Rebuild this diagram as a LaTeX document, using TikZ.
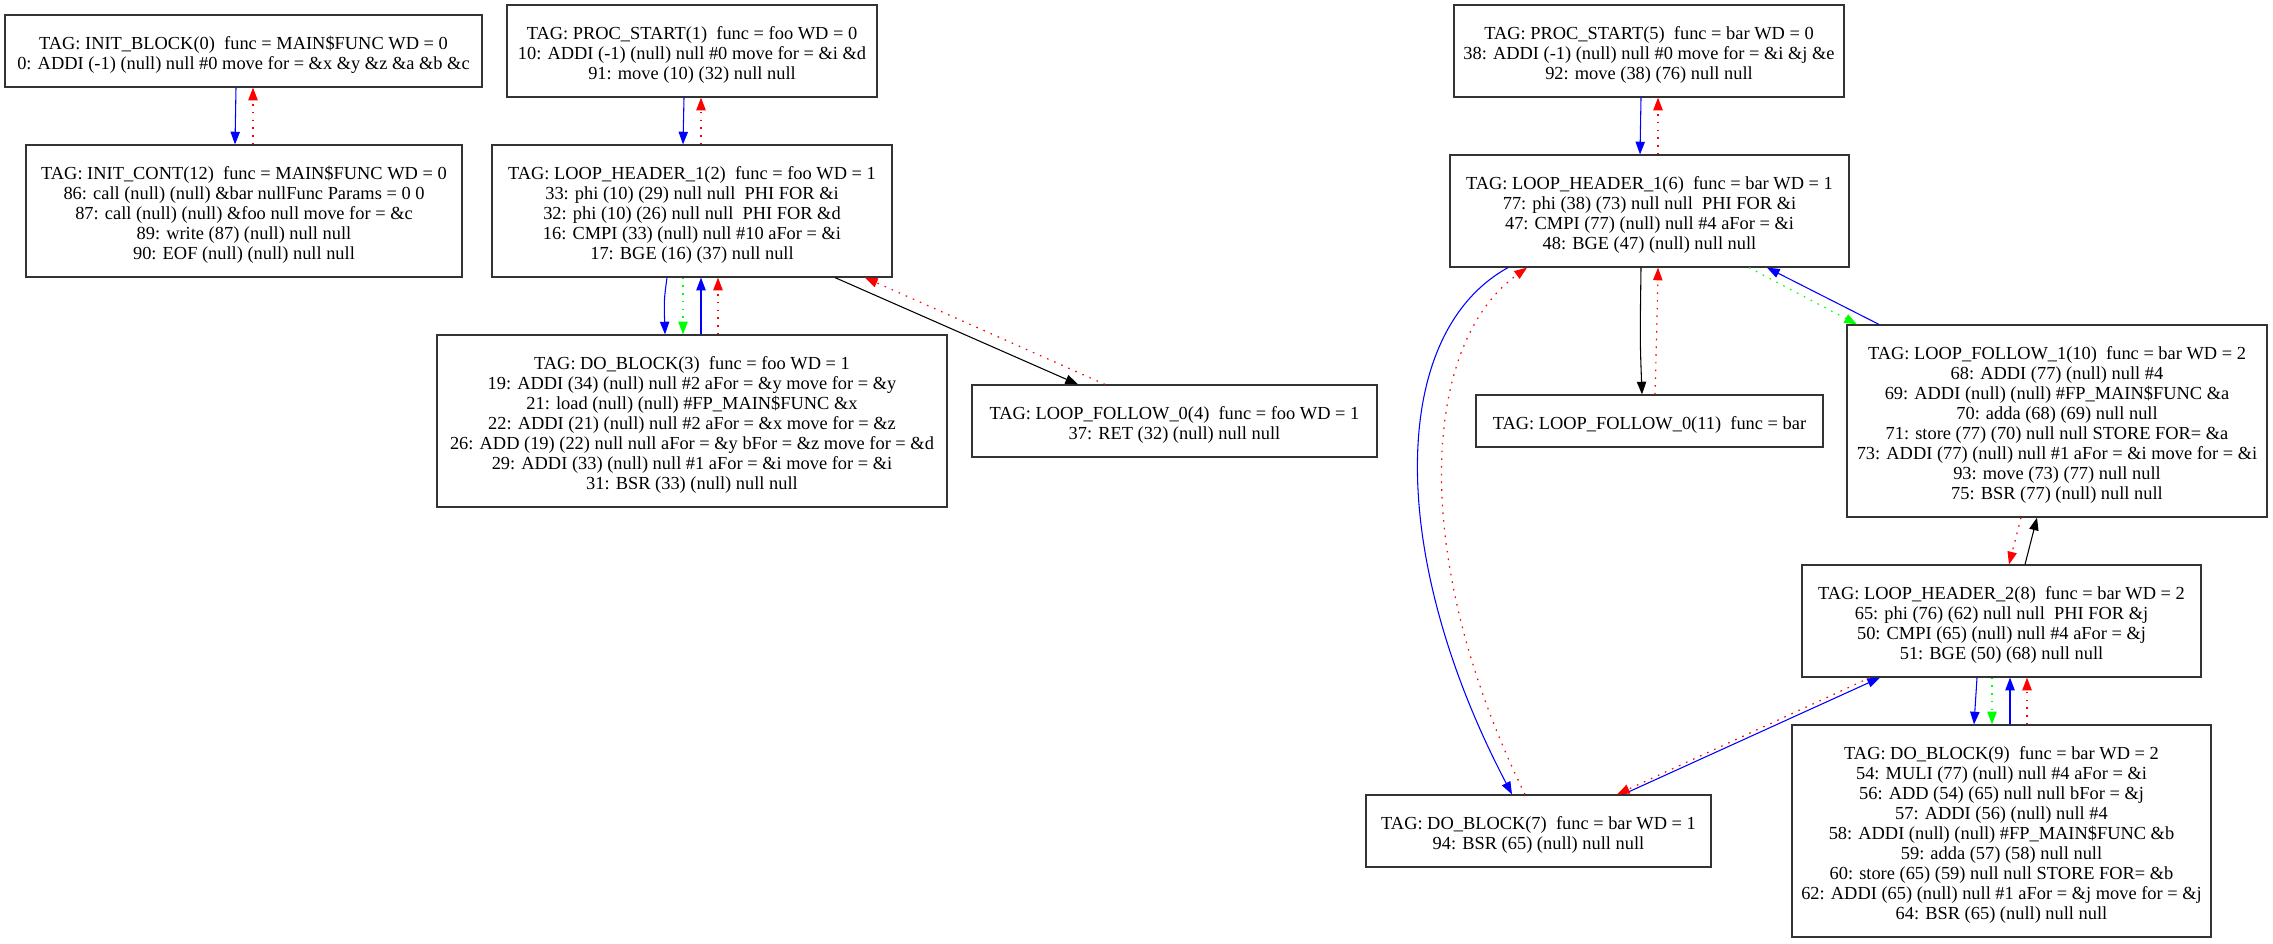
\documentclass[tikz,border=0pt]{standalone}
\usepackage{fontspec}
\setmainfont{Liberation Serif}
\usetikzlibrary{arrows.meta}
\definecolor{gvblue}{RGB}{0,0,255}
\definecolor{gvred}{RGB}{255,0,0}
\definecolor{gvgreen}{RGB}{0,255,0}
\begin{document}
\begin{tikzpicture}[x=0.75pt,y=-0.75pt,
  blk/.style={draw=black!80,line width=0.9pt,rectangle,inner sep=0pt,align=center,
    font=\fontsize{13.8}{15}\selectfont},
  tipgv/.style={-{Triangle[length=9.5pt,width=7pt]}},
  eblue/.style={tipgv,draw=gvblue,line width=0.8pt},
  eblack/.style={tipgv,draw=black,line width=0.8pt},
  ered/.style={tipgv,draw=gvred,line width=0.9pt,dash pattern=on 1.2pt off 4.6pt},
  egreen/.style={tipgv,draw=gvgreen,line width=0.9pt,dash pattern=on 1.2pt off 4.6pt}]
\useasboundingbox (0,0) rectangle (2273,943);

\node[blk,minimum width=357.75pt,minimum height=54pt] (n0) at (243.5,51)
 {\mbox{}\\TAG: INIT\_BLOCK(0)~ func = MAIN\$FUNC WD = 0\\0: ADDI (-1) (null) null \#0 move for = \&x \&y \&z \&a \&b \&c};
\node[blk,minimum width=327pt,minimum height=99pt] (n12) at (244,211)
 {\mbox{}\\TAG: INIT\_CONT(12)~ func = MAIN\$FUNC WD = 0\\86: call (null) (null) \&bar nullFunc Params = 0 0\\87: call (null) (null) \&foo null move for = \&c\\89: write (87) (null) null null\\90: EOF (null) (null) null null};
\node[blk,minimum width=277.5pt,minimum height=69pt] (n1) at (692,51)
 {\mbox{}\\TAG: PROC\_START(1)~ func = foo WD = 0\\10: ADDI (-1) (null) null \#0 move for = \&i \&d\\91: move (10) (32) null null};
\node[blk,minimum width=300pt,minimum height=99pt] (n2) at (692,211)
 {\mbox{}\\TAG: LOOP\_HEADER\_1(2)~ func = foo WD = 1\\33: phi (10) (29) null null~ PHI FOR \&i\\32: phi (10) (26) null null~ PHI FOR \&d\\16: CMPI (33) (null) null \#10 aFor = \&i\\17: BGE (16) (37) null null};
\node[blk,minimum width=382.5pt,minimum height=129pt] (n3) at (692,421)
 {\mbox{}\\TAG: DO\_BLOCK(3)~ func = foo WD = 1\\19: ADDI (34) (null) null \#2 aFor = \&y move for = \&y\\21: load (null) (null) \#FP\_MAIN\$FUNC \&x\\22: ADDI (21) (null) null \#2 aFor = \&x move for = \&z\\26: ADD (19) (22) null null aFor = \&y bFor = \&z move for = \&d\\29: ADDI (33) (null) null \#1 aFor = \&i move for = \&i\\31: BSR (33) (null) null null};
\node[blk,minimum width=303.75pt,minimum height=54pt] (n4) at (1174.5,421)
 {\mbox{}\\TAG: LOOP\_FOLLOW\_0(4)~ func = foo WD = 1\\37: RET (32) (null) null null};
\node[blk,minimum width=292.5pt,minimum height=69pt] (n5) at (1649,51)
 {\mbox{}\\TAG: PROC\_START(5)~ func = bar WD = 0\\38: ADDI (-1) (null) null \#0 move for = \&i \&j \&e\\92: move (38) (76) null null};
\node[blk,minimum width=299.25pt,minimum height=84pt] (n6) at (1649.5,211)
 {\mbox{}\\TAG: LOOP\_HEADER\_1(6)~ func = bar WD = 1\\77: phi (38) (73) null null~ PHI FOR \&i\\47: CMPI (77) (null) null \#4 aFor = \&i\\48: BGE (47) (null) null null};
\node[blk,minimum width=260.25pt,minimum height=39pt] (n11) at (1649.5,421)
 {\mbox{}\\TAG: LOOP\_FOLLOW\_0(11)~ func = bar};
\node[blk,minimum width=315pt,minimum height=144pt] (n10) at (2057,421)
 {\mbox{}\\TAG: LOOP\_FOLLOW\_1(10)~ func = bar WD = 2\\68: ADDI (77) (null) null \#4\\69: ADDI (null) (null) \#FP\_MAIN\$FUNC \&a\\70: adda (68) (69) null null\\71: store (77) (70) null null STORE FOR= \&a\\73: ADDI (77) (null) null \#1 aFor = \&i move for = \&i\\93: move (73) (77) null null\\75: BSR (77) (null) null null};
\node[blk,minimum width=299.25pt,minimum height=84pt] (n8) at (2001.5,621)
 {\mbox{}\\TAG: LOOP\_HEADER\_2(8)~ func = bar WD = 2\\65: phi (76) (62) null null~ PHI FOR \&j\\50: CMPI (65) (null) null \#4 aFor = \&j\\51: BGE (50) (68) null null};
\node[blk,minimum width=258.75pt,minimum height=54pt] (n7) at (1538.5,831)
 {\mbox{}\\TAG: DO\_BLOCK(7)~ func = bar WD = 1\\94: BSR (65) (null) null null};
\node[blk,minimum width=314.25pt,minimum height=159pt] (n9) at (2001.5,831)
 {\mbox{}\\TAG: DO\_BLOCK(9)~ func = bar WD = 2\\54: MULI (77) (null) null \#4 aFor = \&i\\56: ADD (54) (65) null null bFor = \&j\\57: ADDI (56) (null) null \#4\\58: ADDI (null) (null) \#FP\_MAIN\$FUNC \&b\\59: adda (57) (58) null null\\60: store (65) (59) null null STORE FOR= \&b\\62: ADDI (65) (null) null \#1 aFor = \&j move for = \&j\\64: BSR (65) (null) null null};

% left group
\draw[eblue] (n0.south -| 236,0) -- (n12.north -| 235,0);
\draw[ered] (n12.north -| 253,0) -- (n0.south -| 253,0);
% foo
\draw[eblue] (n1.south -| 684,0) -- (n2.north -| 683,0);
\draw[ered] (n2.north -| 701,0) -- (n1.south -| 701,0);
\draw[eblue] (n2.south -| 667,0) .. controls (664,300) .. (n3.north -| 665,0);
\draw[egreen] (n2.south -| 683,0) -- (n3.north -| 683,0);
\draw[eblue] (n3.north -| 701,0) -- (n2.south -| 701,0);
\draw[ered] (n3.north -| 718,0) -- (n2.south -| 718,0);
\draw[eblack] (n2.south -| 835,0) -- (n4.north -| 1078,0);
\draw[ered] (n4.north -| 1105,0) -- (n2.south -| 865,0);
% bar
\draw[eblue] (n5.south -| 1641,0) -- (n6.north -| 1640,0);
\draw[ered] (n6.north -| 1658,0) -- (n5.south -| 1658,0);
\draw[eblack] (n6.south -| 1641,0) .. controls (1640,340) .. (n11.north -| 1642,0);
\draw[ered] (n11.north -| 1655,0) .. controls (1657,320) .. (n6.south -| 1658,0);
\draw[eblue] (n6.south -| 1508,0) .. controls (1388,334) and (1387,556) .. (n7.north -| 1512,0);
\draw[ered] (n7.north -| 1525,0) .. controls (1410,560) and (1420,345) .. (n6.south -| 1527,0);
\draw[eblue] (n10.north -| 1879,0) -- (n6.south -| 1767,0);
\draw[egreen] (n6.south -| 1749,0) -- (n10.north -| 1857,0);
\draw[ered] (n10.south -| 2021,0) -- (n8.north -| 2009,0);
\draw[eblack] (n8.north -| 2025,0) -- (n10.south -| 2037,0);
\draw[eblue] (n8.south -| 1977,0) -- (n9.north -| 1974,0);
\draw[egreen] (n8.south -| 1992,0) -- (n9.north -| 1992,0);
\draw[eblue] (n9.north -| 2010,0) -- (n8.south -| 2010,0);
\draw[ered] (n9.north -| 2027,0) -- (n8.south -| 2027,0);
\draw[eblue] (n7.north -| 1623,0) -- (n8.south -| 1880,0);
\draw[ered] (n8.south -| 1870,0) -- (n7.north -| 1617,0);
\end{tikzpicture}
\end{document}
